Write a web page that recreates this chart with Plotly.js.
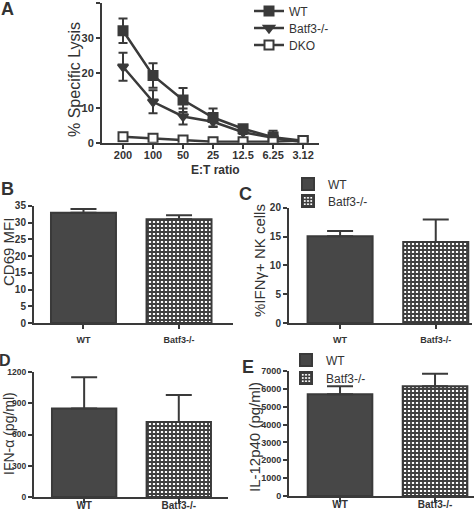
<!DOCTYPE html>
<html>
<head>
<meta charset="utf-8">
<script src="https://cdn.plot.ly/plotly-3.0.1.min.js"></script>
<style>html,body{margin:0;padding:0;background:#fff;}#chart{width:474px;height:511px;}</style>
</head>
<body>
<div id="chart"></div>
<script>
// Panel A: cytotoxicity
const etRatios = ["200", "100", "50", "25", "12.5", "6.25", "3.12"];
const lysisWT = [32, 19.2, 12.2, 7.2, 4, 1.6, 0.6];
const lysisWTErr = [3.5, 3.5, 3.4, 2.6, 0.6, 1.8, 0.6];
const lysisBatf3 = [21.7, 11.7, 7.5, 6, 3, 1.4, 0.1];
const lysisBatf3Err = [4, 3.3, 2.3, 1.5, 0.5, 1.2, 0.3];
const lysisDKO = [1.7, 1.3, 0.8, 0.3, 0.3, 0.3, 0.6];

// Bar panels
const groups = ["WT", "Batf3-/-"];
const cd69 = [33, 31];
const cd69Err = [1.1, 1.2];
const ifngNK = [15.1, 14.1];
const ifngNKErr = [0.9, 3.9];
const ifnAlpha = [850, 720];
const ifnAlphaErr = [300, 260];
const il12p40 = [5700, 6150];
const il12p40Err = [450, 700];

const FONT = "Liberation Sans, Arial, sans-serif";
const DARK = "#3a3a3a";
const BARDARK = "#474747";

function lineTrace(name, y, err, symbol, fill, legendName) {
  const t = {
    type: "scatter", mode: "lines+markers", name: name,
    x: etRatios, y: y, xaxis: "x", yaxis: "y", legend: legendName,
    line: {color: DARK, width: 2.5},
    marker: {symbol: symbol, size: 9, color: fill, line: {color: DARK, width: 2}}
  };
  if (err) t.error_y = {type: "data", array: err, visible: true, color: DARK, thickness: 2, width: 4.5};
  return t;
}

function barTraces(vals, errs, xa, ya, legWT, legKO, show) {
  const wt = {
    type: "bar", name: "WT", x: [groups[0]], y: [vals[0]], xaxis: xa, yaxis: ya,
    width: 0.68, showlegend: show, legend: legWT,
    marker: {color: BARDARK, line: {color: DARK, width: 2}},
    error_y: {type: "data", array: [errs[0]], arrayminus: [0], symmetric: false, visible: true, color: DARK, thickness: 2, width: 13}
  };
  const ko = {
    type: "bar", name: "Batf3-/-", x: [groups[1]], y: [vals[1]], xaxis: xa, yaxis: ya,
    width: 0.68, showlegend: show, legend: legKO,
    marker: {color: "white", line: {color: DARK, width: 2},
      pattern: {shape: "+", fgcolor: "#3f3f3f", bgcolor: "white", size: 4, solidity: 0.7}},
    error_y: {type: "data", array: [errs[1]], arrayminus: [0], symmetric: false, visible: true, color: DARK, thickness: 2, width: 13}
  };
  return [wt, ko];
}

const data = [
  lineTrace("WT", lysisWT, lysisWTErr, "square", DARK, "legend"),
  lineTrace("Batf3-/-", lysisBatf3, lysisBatf3Err, "triangle-down", DARK, "legend6"),
  lineTrace("DKO", lysisDKO, null, "square", "white", "legend7"),
  ...barTraces(cd69, cd69Err, "x2", "y2", "legend", "legend", false),
  ...barTraces(ifngNK, ifngNKErr, "x3", "y3", "legend2", "legend3", true),
  ...barTraces(ifnAlpha, ifnAlphaErr, "x4", "y4", "legend", "legend", false),
  ...barTraces(il12p40, il12p40Err, "x5", "y5", "legend4", "legend5", true)
];

const axBase = {
  showline: true, linecolor: DARK, linewidth: 2, showgrid: false, zeroline: false,
  ticks: "outside", ticklen: 4, tickwidth: 2, tickcolor: DARK, automargin: false
};
function xax(domain, range, anchor, standoff, size) {
  return Object.assign({}, axBase, {domain: domain, range: range, anchor: anchor, type: "category",
    ticklabelstandoff: standoff, tickfont: {family: FONT, size: size, color: "#333", weight: "bold"}});
}
function yax(domain, range, dtick, anchor, size) {
  return Object.assign({}, axBase, {domain: domain, range: range, dtick: dtick, anchor: anchor,
    tickfont: {family: FONT, size: size, color: "#333", weight: "bold"}});
}

function ann(text, x, y, size, bold, angle) {
  return {text: text, x: x / 474, y: 1 - y / 511, xref: "paper", yref: "paper",
    xanchor: "center", yanchor: "middle", showarrow: false, textangle: angle || 0,
    font: {family: FONT, size: size, color: "#333", weight: bold ? "bold" : "normal"}};
}

function legendAt(x, y) {
  return {x: x / 474, y: 1 - y / 511, xanchor: "left", yanchor: "middle", bgcolor: "rgba(0,0,0,0)",
    font: {family: FONT, size: 12, color: "#333"}, tracegroupgap: 0, itemwidth: 30};
}

const layout = {
  width: 474, height: 511,
  margin: {l: 0, r: 0, t: 0, b: 0, pad: 0, autoexpand: false},
  paper_bgcolor: "white", plot_bgcolor: "white",
  font: {family: FONT, color: "#333"},
  xaxis: xax([0.2152, 0.673], [-0.7, 6.53], "y", -3, 11),
  yaxis: yax([0.7207, 0.9947], [0, 40], 10, "x", 11),
  xaxis2: xax([0.0717, 0.4916], [-0.518, 1.565], "y2", 3, 9),
  yaxis2: yax([0.3679, 0.5969], [0, 35], 5, "x2", 10),
  xaxis3: xax([0.6097, 0.996], [-0.534, 1.38], "y3", 3, 9),
  yaxis3: yax([0.3679, 0.593], [0, 20], 5, "x3", 10),
  xaxis4: xax([0.0717, 0.481], [-0.53, 1.52], "y4", -6, 10),
  yaxis4: yax([0.0274, 0.272], [0, 1200], 300, "x4", 8.5),
  xaxis5: xax([0.6097, 1.0], [-0.537, 1.41], "y5", -6, 10),
  yaxis5: yax([0.0294, 0.274], [0, 7000], 1000, "x5", 9),
  legend: legendAt(249, 11),
  legend6: legendAt(249, 28),
  legend7: legendAt(249, 45),
  legend2: legendAt(288, 184),
  legend3: legendAt(288, 201),
  legend4: legendAt(286, 360),
  legend5: legendAt(286, 378),
  annotations: [
    ann("A", 7, 9, 18, true),
    ann("B", 7, 189, 18, true),
    ann("C", 245, 194, 18, true),
    ann("D", 5, 360, 16, true),
    ann("E", 248, 367, 18, true),
    ann("% Specific Lysis", 74, 80, 16, false, -90),
    ann("E:T ratio", 215, 170, 12, true),
    ann("CD69 MFI", 8, 252, 15, false, -90),
    ann("%IFN\u03b3+ NK cells", 259, 261, 15, false, -90),
    ann("IFN-\u03b1 (pg/ml)", 9, 434, 14, false, -90),
    ann("IL-12p40 (pg/ml)", 254, 437, 15, false, -90)
  ]
};

Plotly.newPlot("chart", data, layout, {staticPlot: true, displayModeBar: false});
</script>
</body>
</html>
